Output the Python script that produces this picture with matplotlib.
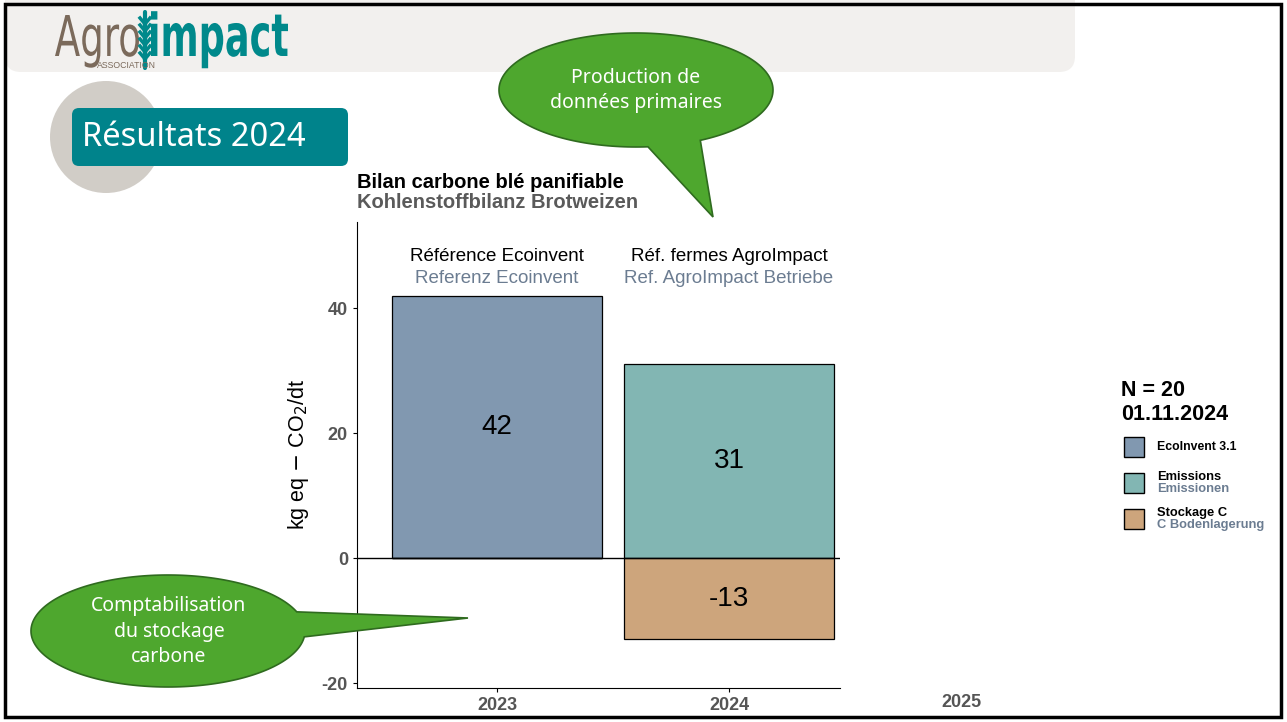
import numpy as np
import matplotlib.pyplot as plt
from matplotlib.patches import Rectangle, FancyBboxPatch, Circle, Polygon, PathPatch
from matplotlib.textpath import TextPath
from matplotlib.font_manager import FontProperties
from matplotlib.transforms import Affine2D

plt.rcParams['axes.unicode_minus'] = False

# chart data
years = [2023, 2024]
labels_fr = ["Référence Ecoinvent", "Réf. fermes AgroImpact"]
labels_de = ["Referenz Ecoinvent", "Ref. AgroImpact Betriebe"]
ecoinvent = [42, 0]
emissions = [0, 31]
stockage = [0, -13]
yticks = [-20, 0, 20, 40]
xticks = [2023, 2024]

legend_fr = ["EcoInvent 3.1", "Emissions", "Stockage C"]
legend_de = ["", "Emissionen", "C Bodenlagerung"]
c_eco = "#8198b0"
c_emi = "#82b6b3"
c_sto = "#cda57c"
legend_colors = [c_eco, c_emi, c_sto]

W, H = 1287, 722
fig = plt.figure(figsize=(W / 100, H / 100), dpi=100)

# slide background (pixel coordinates)
bg = fig.add_axes([0, 0, 1, 1], zorder=0)
bg.set_xlim(0, W)
bg.set_ylim(H, 0)
bg.axis("off")
bg.add_patch(FancyBboxPatch((5, -40), 1070, 112, boxstyle="round,pad=0,rounding_size=16",
                            fc="#f2f0ee", ec="none"))
bg.add_patch(Circle((106, 137), 56, fc="#d1cdc7", ec="none"))
bg.add_patch(FancyBboxPatch((72, 108), 276, 58, boxstyle="round,pad=0,rounding_size=7",
                            fc="#00838b", ec="none"))
bg.text(82, 138, "Résultats 2024", color="white", fontsize=23.5, family="Noto Sans",
        va="center", ha="left")


def logo_text(s, x0, x1, base, top, color, weight="normal"):
    # squeeze a text path into a pixel box (logo lettering is condensed)
    tp = TextPath((0, 0), s, size=100, prop=FontProperties(family="DejaVu Sans", weight=weight))
    ext = tp.get_extents()
    cap = TextPath((0, 0), "A", size=100,
                   prop=FontProperties(family="DejaVu Sans", weight=weight)).get_extents().y1
    sx = (x1 - x0) / ext.width
    sy = (base - top) / cap
    tr = Affine2D().translate(-ext.x0, 0).scale(sx, -sy).translate(x0, base)
    bg.add_patch(PathPatch(tr.transform_path(tp), fc=color, ec="none"))


logo_text("Agro", 55, 139, 56, 15, "#7b6a5b")
logo_text("impact", 151, 288, 56, 13, "#00898b", weight="bold")
bg.text(97, 68, "ASSOCIATION", color="#7b6a5b", fontsize=6.3, family="Liberation Sans",
        va="baseline", ha="left")
bg.plot([145, 145], [12, 68], color="#00898b", lw=3, solid_capstyle="round")
for yy in np.arange(18, 56, 7):
    bg.plot([145, 140], [yy + 6, yy], color="#00898b", lw=2.5)
    bg.plot([145, 150], [yy + 6, yy], color="#00898b", lw=2.5)

# chart
ax = fig.add_axes([357 / W, (H - 688) / H, (840 - 357) / W, (688 - 222) / H], zorder=1)
ax.patch.set_alpha(0)
ax.bar(years, ecoinvent, width=0.905, color=c_eco, edgecolor="black", linewidth=0.9)
ax.bar(years, emissions, width=0.905, color=c_emi, edgecolor="black", linewidth=0.9)
ax.bar(years, stockage, width=0.905, color=c_sto, edgecolor="black", linewidth=0.9)
ax.axhline(0, color="black", lw=1)

for i, y in enumerate(years):
    for v in (ecoinvent[i], emissions[i], stockage[i]):
        if v != 0:
            ax.text(y, v / 2, str(v), ha="center", va="center", fontsize=20,
                    family="Liberation Sans", color="black")
    ax.text(y, 48.3, labels_fr[i], ha="center", va="center", fontsize=13.5,
            family="Liberation Sans", color="black")
    ax.text(y, 44.8, labels_de[i], ha="center", va="center", fontsize=13.5,
            family="Liberation Sans", color="#6b7c91")

ax.set_xlim(2022.397, 2024.478)
ax.set_ylim(-20.8, 53.8)
ax.set_yticks(yticks)
ax.set_xticks(xticks)
ax.tick_params(axis="both", labelsize=13, labelcolor="#555555", length=3, width=0.8)
for lab in ax.get_xticklabels() + ax.get_yticklabels():
    lab.set_fontweight("bold")
    lab.set_family("Liberation Sans")
ax.text(2025, -0.032, "2025", transform=ax.get_xaxis_transform(), ha="center", va="center",
        fontsize=13, weight="bold", color="#555555", family="Liberation Sans", clip_on=False)
ax.spines["top"].set_visible(False)
ax.spines["right"].set_visible(False)
ax.set_ylabel("kg eq $-$ CO$_2$/dt", fontsize=15.5, family="Liberation Sans", labelpad=8)
ax.text(0, 1.084, "Bilan carbone blé panifiable", transform=ax.transAxes, fontsize=14.5,
        weight="bold", family="Liberation Sans", color="black", va="center")
ax.text(0, 1.041, "Kohlenstoffbilanz Brotweizen", transform=ax.transAxes, fontsize=14.5,
        weight="bold", family="Liberation Sans", color="#5a5a5a", va="center")

# overlay: legend, callouts, frame
ov = fig.add_axes([0, 0, 1, 1], zorder=2)
ov.set_xlim(0, W)
ov.set_ylim(H, 0)
ov.axis("off")
ov.patch.set_alpha(0)
ov.text(1121, 390, "N = 20", fontsize=15.5, weight="bold", family="Liberation Sans", va="center")
ov.text(1121, 414, "01.11.2024", fontsize=15.5, weight="bold", family="Liberation Sans", va="center")
for k, (fr, de, col) in enumerate(zip(legend_fr, legend_de, legend_colors)):
    y0 = 437 + k * 36
    ov.add_patch(Rectangle((1124, y0), 20, 20, fc=col, ec="black", lw=1))
    if de:
        ov.text(1157, y0 + 4, fr, fontsize=9.3, weight="bold", family="Liberation Sans", va="center")
        ov.text(1157, y0 + 16, de, fontsize=9.3, weight="bold", family="Liberation Sans",
                va="center", color="#6b7c91")
    else:
        ov.text(1157, y0 + 10, fr, fontsize=8.8, weight="bold", family="Liberation Sans", va="center")


def callout(cx, cy, a, b, t_start, t_end, tip):
    t = np.radians(np.linspace(t_start, t_end, 200))
    pts = np.column_stack([cx + a * np.cos(t), cy + b * np.sin(t)])
    pts = np.vstack([pts, tip])
    ov.add_patch(Polygon(pts, closed=True, fc="#4ea72e", ec="#2f6b1f", lw=1.2))


callout(636, 90, 137, 57, 85, 422, (713, 217))
ov.text(636, 78, "Production de", color="white", fontsize=14, family="Noto Sans",
        ha="center", va="center")
ov.text(636, 103, "données primaires", color="white", fontsize=14, family="Noto Sans",
        ha="center", va="center")
callout(168, 631, 137, 56, 6, 340, (468, 618))
for txt, yy in zip(["Comptabilisation", "du stockage", "carbone"], [606, 632, 657]):
    ov.text(169, yy, txt, color="white", fontsize=14, family="Noto Sans", ha="center", va="center")

ov.add_patch(Rectangle((5, 4), 1276, 713, fc="none", ec="black", lw=2.5))

fig.savefig("out.png", dpi=100)
plt.close()
